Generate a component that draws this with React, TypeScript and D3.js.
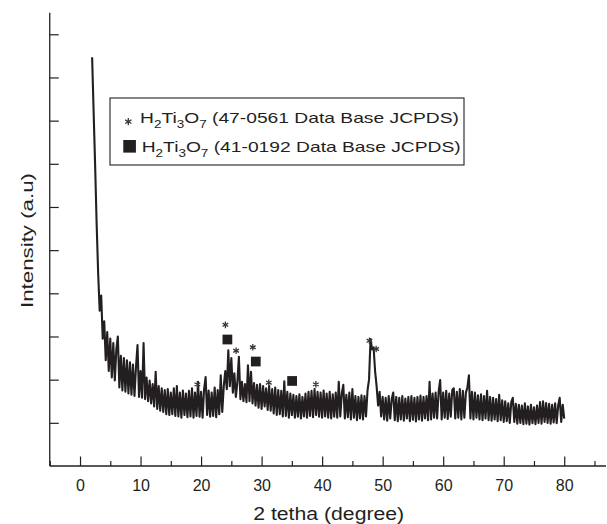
import React, { useEffect, useRef } from "react";
import * as d3 from "d3";

// XRD scan: 2θ from 2° to 80°, one reading every 0.25°
const scanStart = 2;
const scanStep = 0.25;
const intensity = [
  9.47, 8.2, 6.95, 5.6, 4.45, 3.6, 3.95, 2.95,
  3.35, 2.45, 3.1, 2.2, 2.95, 2.05, 2.85, 1.98,
  2.7, 3.0, 1.82, 2.55, 1.75, 2.5, 1.72, 2.45,
  1.68, 2.4, 1.65, 2.35, 1.62, 2.3, 2.8, 1.6,
  2.2, 1.58, 2.85, 1.55, 2.05, 1.5, 1.98, 1.45,
  1.9, 1.38, 2.18, 1.32, 1.85, 1.28, 1.8, 1.25,
  1.76, 1.2, 1.78, 1.18, 1.7, 1.2, 1.8, 1.16,
  1.85, 1.15, 1.7, 1.12, 1.75, 1.18, 1.68, 1.13,
  1.74, 1.15, 1.8, 1.12, 1.7, 1.16, 1.95, 1.14,
  1.72, 1.12, 1.78, 2.06, 1.18, 1.75, 1.14, 1.7,
  1.16, 1.82, 1.13, 1.76, 1.2, 2.1, 1.25, 1.85,
  2.2, 1.78, 2.68, 1.85, 2.5, 1.7, 2.15, 1.6,
  1.95, 2.53, 1.55, 1.95, 1.5, 1.9, 1.48, 2.33,
  1.5, 2.18, 1.45, 1.92, 1.4, 1.88, 1.35, 1.9,
  1.32, 1.85, 1.38, 1.8, 1.3, 1.86, 1.28, 1.78,
  1.22, 1.82, 1.18, 1.76, 1.2, 1.74, 1.15, 1.96,
  1.16, 1.72, 1.12, 1.68, 1.18, 1.65, 1.12, 1.62,
  1.14, 1.66, 1.1, 1.6, 1.15, 1.68, 1.12, 1.72,
  1.16, 1.74, 1.13, 1.78, 1.18, 1.72, 1.14, 1.7,
  1.12, 1.75, 1.15, 1.68, 1.12, 1.72, 1.1, 1.66,
  1.14, 1.7, 1.12, 1.95, 1.15, 1.68, 1.88, 1.1,
  1.65, 1.13, 1.7, 1.08, 1.78, 1.12, 1.62, 1.06,
  1.6, 1.1, 1.64, 1.08, 1.62, 1.15, 1.75, 2.0,
  2.94, 2.7, 2.75, 2.2, 1.85, 1.4, 1.72, 1.15,
  1.6, 1.08, 1.58, 1.05, 1.62, 1.1, 1.55, 1.7,
  1.06, 1.6, 1.04, 1.58, 1.08, 1.62, 1.05, 1.56,
  1.1, 1.6, 1.04, 1.62, 1.07, 1.58, 1.03, 1.6,
  1.08, 1.63, 1.05, 1.6, 1.1, 1.62, 1.06, 1.95,
  1.08, 1.68, 1.12, 1.7, 1.1, 1.72, 1.99, 1.08,
  1.7, 1.12, 1.74, 1.09, 1.68, 1.14, 1.76, 1.8,
  1.1, 1.72, 1.12, 1.78, 1.08, 1.74, 1.12, 1.7,
  1.82, 2.1, 1.1, 1.72, 1.08, 1.7, 1.12, 1.64,
  1.08, 1.66, 1.06, 1.62, 1.1, 1.74, 1.06, 1.6,
  1.05, 1.58, 1.08, 1.55, 1.04, 1.65, 1.06, 1.52,
  1.02, 1.5, 1.04, 1.45, 1.0, 1.48, 1.58, 1.02,
  1.44, 0.98, 1.42, 1.0, 1.4, 0.97, 1.45, 0.98,
  1.38, 0.96, 1.42, 0.99, 1.36, 0.97, 1.4, 1.0,
  1.48, 0.98, 1.5, 1.02, 1.46, 1.0, 1.44, 0.98,
  1.42, 1.01, 1.45, 0.99, 1.4, 1.58, 1.02, 1.42,
  1.1,
];

// reference peaks marked on the pattern
const starAngle = [19.39, 24.02, 25.79, 28.55, 31.19, 38.96, 47.82, 48.93];
const starLevel = [1.89, 3.27, 2.67, 2.75, 1.93, 1.89, 2.9, 2.71];
const squareAngle = [24.35, 29.04, 35.04];
const squareLevel = [2.93, 2.42, 1.97];

const xMajor = [0, 10, 20, 30, 40, 50, 60, 70, 80];
const xMinor = [-5, 5, 15, 25, 35, 45, 55, 65, 75, 85];
const yTicks = [1, 2, 3, 4, 5, 6, 7, 8, 9, 10];

const ink = "#231f20";
const font = "'Liberation Sans', Arial, Helvetica, sans-serif";

const App = () => {
  const svgRef = useRef(null);

  useEffect(() => {
    const svg = d3.select(svgRef.current);
    svg.selectAll("*").remove();

    const x = d3.scaleLinear().domain([-5, 86.9]).range([49.75, 606]);
    const y = d3.scaleLinear().domain([0, 10.5]).range([466, 12.7]);

    const data = intensity.map((v, i) => ({ a: scanStart + i * scanStep, v }));

    // trace
    const line = d3
      .line()
      .x((d) => x(d.a))
      .y((d) => y(d.v));
    svg
      .append("path")
      .datum(data)
      .attr("fill", "none")
      .attr("stroke", ink)
      .attr("stroke-width", 2.1)
      .attr("stroke-linejoin", "round")
      .attr("d", line);

    // x axis
    const gx = svg.append("g").attr("transform", `translate(0,${y(0)})`);
    gx.call(
      d3.axisBottom(x).tickValues(xMajor).tickSize(-9.5).tickPadding(13.3)
    );
    gx.call((g) => g.select(".domain").remove());
    const gxm = svg.append("g").attr("transform", `translate(0,${y(0)})`);
    gxm.call(d3.axisBottom(x).tickValues(xMinor).tickSize(-5).tickFormat(() => ""));
    gxm.call((g) => g.select(".domain").remove());
    svg
      .selectAll(".tick line")
      .attr("stroke", ink)
      .attr("stroke-width", 1.2);
    gx.selectAll("text")
      .attr("fill", ink)
      .style("font-family", font)
      .style("font-size", "16px");

    // y axis
    const gy = svg.append("g").attr("transform", `translate(${x(-5)},0)`);
    gy.call(d3.axisLeft(y).tickValues(yTicks).tickSize(-9).tickFormat(() => ""));
    gy.call((g) => g.select(".domain").remove());
    gy.selectAll(".tick line").attr("stroke", ink).attr("stroke-width", 1.2);

    svg
      .append("line")
      .attr("x1", x(-5))
      .attr("x2", x(86.9))
      .attr("y1", y(0))
      .attr("y2", y(0))
      .attr("stroke", ink)
      .attr("stroke-width", 1.3);
    svg
      .append("line")
      .attr("x1", x(-5))
      .attr("x2", x(-5))
      .attr("y1", y(0))
      .attr("y2", y(10.5))
      .attr("stroke", ink)
      .attr("stroke-width", 1.3);

    // axis titles
    svg
      .append("text")
      .attr("x", 328.7)
      .attr("y", 520)
      .attr("text-anchor", "middle")
      .attr("textLength", 151)
      .attr("lengthAdjust", "spacingAndGlyphs")
      .attr("fill", ink)
      .style("font-family", font)
      .style("font-size", "17.5px")
      .text("2 tetha (degree)");
    svg
      .append("text")
      .attr("transform", "translate(32.5,240.5) rotate(-90)")
      .attr("text-anchor", "middle")
      .attr("textLength", 135)
      .attr("lengthAdjust", "spacingAndGlyphs")
      .attr("fill", ink)
      .style("font-family", font)
      .style("font-size", "17px")
      .text("Intensity (a.u)");

    // peak markers
    const star = d3.symbol(d3.symbolAsterisk, 30);
    svg
      .append("g")
      .selectAll("path")
      .data(starAngle)
      .join("path")
      .attr("transform", (d, i) => `translate(${x(d)},${y(starLevel[i])})`)
      .attr("d", star)
      .attr("fill", "none")
      .attr("stroke", "#3a3738")
      .attr("stroke-width", 1.3);
    const sq = d3.symbol(d3.symbolSquare, 95);
    svg
      .append("g")
      .selectAll("path")
      .data(squareAngle)
      .join("path")
      .attr("transform", (d, i) => `translate(${x(d)},${y(squareLevel[i])})`)
      .attr("d", sq)
      .attr("fill", ink);

    // legend
    const lg = svg.append("g");
    lg.append("rect")
      .attr("x", 110)
      .attr("y", 98)
      .attr("width", 354)
      .attr("height", 67)
      .attr("fill", "white")
      .attr("stroke", ink)
      .attr("stroke-width", 1.1);
    lg.append("path")
      .attr("transform", "translate(128.3,121.7)")
      .attr("d", d3.symbol(d3.symbolAsterisk, 36))
      .attr("fill", "none")
      .attr("stroke", "#3a3738")
      .attr("stroke-width", 1.3);
    lg.append("path")
      .attr("transform", "translate(129.6,146.3)")
      .attr("d", d3.symbol(d3.symbolSquare, 160))
      .attr("fill", ink);

    const entries = [
      { x: 140, y: 123.3, code: "47-0561" },
      { x: 141.7, y: 152.3, code: "41-0192" },
    ];
    entries.forEach((e) => {
      const t = lg
        .append("text")
        .attr("x", e.x)
        .attr("y", e.y)
        .attr("textLength", 319)
        .attr("lengthAdjust", "spacingAndGlyphs")
        .attr("fill", ink)
        .style("font-family", font)
        .style("font-size", "15px");
      t.append("tspan").text("H");
      t.append("tspan").attr("dy", 5).style("font-size", "10.5px").text("2");
      t.append("tspan").attr("dy", -5).text("Ti");
      t.append("tspan").attr("dy", 5).style("font-size", "10.5px").text("3");
      t.append("tspan").attr("dy", -5).text("O");
      t.append("tspan").attr("dy", 5).style("font-size", "10.5px").text("7");
      t.append("tspan").attr("dy", -5).text(` (${e.code} Data Base JCPDS)`);
    });
  }, []);

  return (
    <svg
      ref={svgRef}
      width={607}
      height={524}
      style={{ position: "fixed", left: 0, top: 0, background: "white" }}
    />
  );
};

export default App;
